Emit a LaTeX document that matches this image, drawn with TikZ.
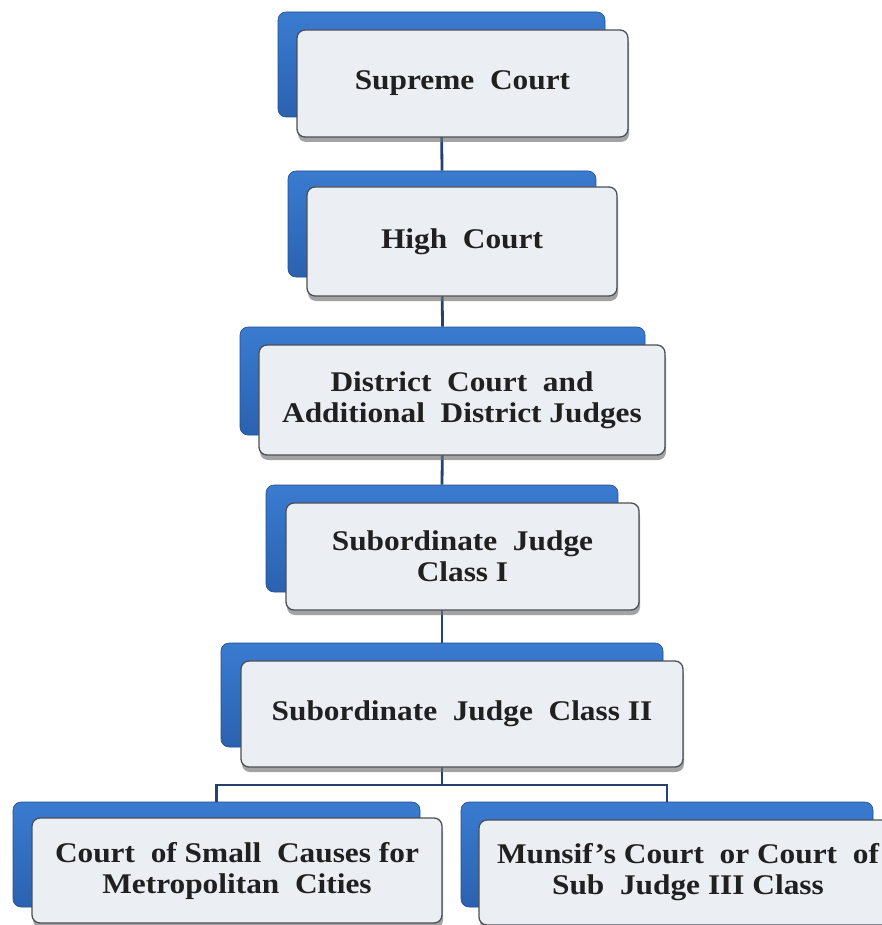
\documentclass[tikz,border=0pt]{standalone}
\usepackage{fontspec}
\setmainfont{Liberation Serif}[FakeStretch=1.1]
\usetikzlibrary{shadows}
\definecolor{bluetop}{HTML}{3A7BD0}
\definecolor{bluebot}{HTML}{2B62B0}
\definecolor{frontfill}{HTML}{EBEEF3}
\definecolor{frontline}{HTML}{4C4F55}
\definecolor{conn}{HTML}{23426F}
\definecolor{txt}{HTML}{202020}
\tikzset{
  backbox/.style={rounded corners=8pt, top color=bluetop, bottom color=bluebot, draw=bluebot!80!black, line width=0.6pt, inner sep=0pt},
  frontbox/.style={rounded corners=8pt, fill=frontfill, draw=frontline, line width=1.3pt, inner sep=0pt, align=center, text=txt,
     font=\bfseries\fontsize{28.5}{31}\selectfont,
     drop shadow={shadow xshift=1pt, shadow yshift=-5pt, fill=black!55, opacity=0.65}},
  connector/.style={draw=conn, line width=2.8pt}
}
\begin{document}
\begin{tikzpicture}[x=1pt,y=-1pt]
\useasboundingbox (0,0) rectangle (882,925);
\fill[white] (0,0) rectangle (882,925);
% back boxes
\node[backbox, minimum width=327pt, minimum height=105pt] (b1) at (441.5,64.5) {};
\node[backbox, minimum width=308pt, minimum height=106pt] (b2) at (442,224) {};
\node[backbox, minimum width=405pt, minimum height=108pt] (b3) at (442.5,381) {};
\node[backbox, minimum width=352pt, minimum height=107pt] (b4) at (442,538.5) {};
\node[backbox, minimum width=442pt, minimum height=104pt] (b5) at (442,695) {};
\node[backbox, minimum width=407pt, minimum height=105pt] (b6) at (216.5,854.5) {};
\node[backbox, minimum width=412pt, minimum height=105pt] (b7) at (667,854.5) {};
% connectors
\coordinate (bus) at (442,785);
\draw[connector] (b1.south) -- (b2.north);
\draw[connector] (b2.south) -- (b3.north);
\draw[connector] (b3.south) -- (b4.north);
\draw[connector] (b4.south) -- (b5.north);
\draw[connector] (b5.south) -- (bus);
\draw[connector] (bus) -| (b6.north);
\draw[connector] (bus) -| (b7.north);
% front boxes
\node[frontbox, minimum width=331pt, minimum height=107pt] (f1) at (462.5,83.5) {\raisebox{-3pt}{Supreme\ \ Court}};
\node[frontbox, minimum width=310pt, minimum height=109pt] (f2) at (462,241.5) {\raisebox{-3pt}{High\ \ Court}};
\node[frontbox, minimum width=406pt, minimum height=110pt] (f3) at (462,400) {District\ \ Court\ \ and\\Additional\ \ District\ Judges};
\node[frontbox, minimum width=353pt, minimum height=107pt] (f4) at (462.5,556.5) {Subordinate\ \ Judge\\Class I};
\node[frontbox, minimum width=442pt, minimum height=106pt] (f5) at (462,714) {\raisebox{-3pt}{Subordinate\ \ Judge\ \ Class II}};
\node[frontbox, minimum width=410pt, minimum height=105pt] (f6) at (237,870.5) {Court\ \ of\ Small\ \ Causes for\\Metropolitan\ \ Cities};
\node[frontbox, minimum width=418pt, minimum height=105pt] (f7) at (688,872.5) {Munsif's Court\ \ or Court\ \ of\\Sub\ \ Judge III Class};
\end{tikzpicture}
\end{document}
